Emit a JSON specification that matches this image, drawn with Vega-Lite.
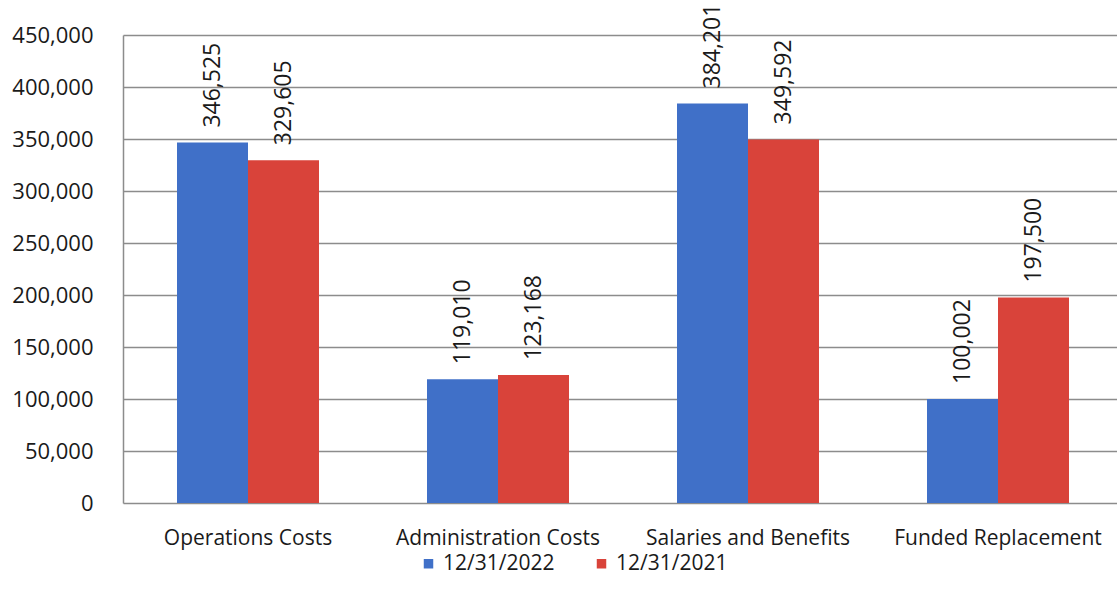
{
  "$schema": "https://vega.github.io/schema/vega-lite/v6.json",
  "width": 994,
  "height": 468,
  "autosize": "none",
  "padding": {"left": 123, "top": 35, "right": 0, "bottom": 102},
  "background": "white",
  "config": {
    "view": {"stroke": null},
    "font": "Open Sans"
  },
  "data": {
    "values": [
      {"category": "Operations Costs", "period": "12/31/2022", "amount": 346525},
      {"category": "Operations Costs", "period": "12/31/2021", "amount": 329605},
      {"category": "Administration Costs", "period": "12/31/2022", "amount": 119010},
      {"category": "Administration Costs", "period": "12/31/2021", "amount": 123168},
      {"category": "Salaries and Benefits", "period": "12/31/2022", "amount": 384201},
      {"category": "Salaries and Benefits", "period": "12/31/2021", "amount": 349592},
      {"category": "Funded Replacement", "period": "12/31/2022", "amount": 100002},
      {"category": "Funded Replacement", "period": "12/31/2021", "amount": 197500}
    ]
  },
  "encoding": {
    "x": {
      "field": "category",
      "type": "nominal",
      "sort": null,
      "scale": {"range": [0, 1000], "paddingInner": 0.432, "paddingOuter": 0.216},
      "axis": {
        "title": null,
        "labelAngle": 0,
        "labelFontSize": 21,
        "labelLimit": 0,
        "labelColor": "#1a1a1a",
        "labelPadding": 24,
        "ticks": false,
        "domain": false
      }
    },
    "xOffset": {"field": "period", "type": "nominal", "sort": ["12/31/2022", "12/31/2021"]},
    "y": {
      "field": "amount",
      "type": "quantitative",
      "scale": {"domain": [0, 450000], "nice": false},
      "axis": {
        "title": null,
        "values": [0, 50000, 100000, 150000, 200000, 250000, 300000, 350000, 400000, 450000],
        "format": ",d",
        "labelFontSize": 22,
        "labelColor": "#1a1a1a",
        "labelPadding": 30,
        "ticks": false,
        "domain": true,
        "domainColor": "#8c8c8c",
        "domainWidth": 1.5,
        "grid": true,
        "gridColor": "#8c8c8c",
        "gridWidth": 1.5
      }
    },
    "color": {
      "field": "period",
      "type": "nominal",
      "sort": ["12/31/2022", "12/31/2021"],
      "scale": {"domain": ["12/31/2022", "12/31/2021"], "range": ["#4070C8", "#D9433A"]},
      "legend": {
        "title": null,
        "orient": "none",
        "direction": "horizontal",
        "legendX": 295,
        "legendY": 518,
        "symbolType": "square",
        "symbolSize": 90,
        "symbolStrokeWidth": 0,
        "labelFontSize": 21,
        "labelColor": "#1a1a1a",
        "labelOffset": 4,
        "columnPadding": 36
      }
    }
  },
  "layer": [
    {"mark": {"type": "bar"}},
    {
      "mark": {
        "type": "text",
        "angle": 270,
        "align": "left",
        "baseline": "middle",
        "dx": 15,
        "fontSize": 23,
        "color": "#1a1a1a"
      },
      "encoding": {
        "text": {"field": "amount", "type": "quantitative", "format": ",d"},
        "color": {"value": "#1a1a1a"}
      }
    }
  ]
}
